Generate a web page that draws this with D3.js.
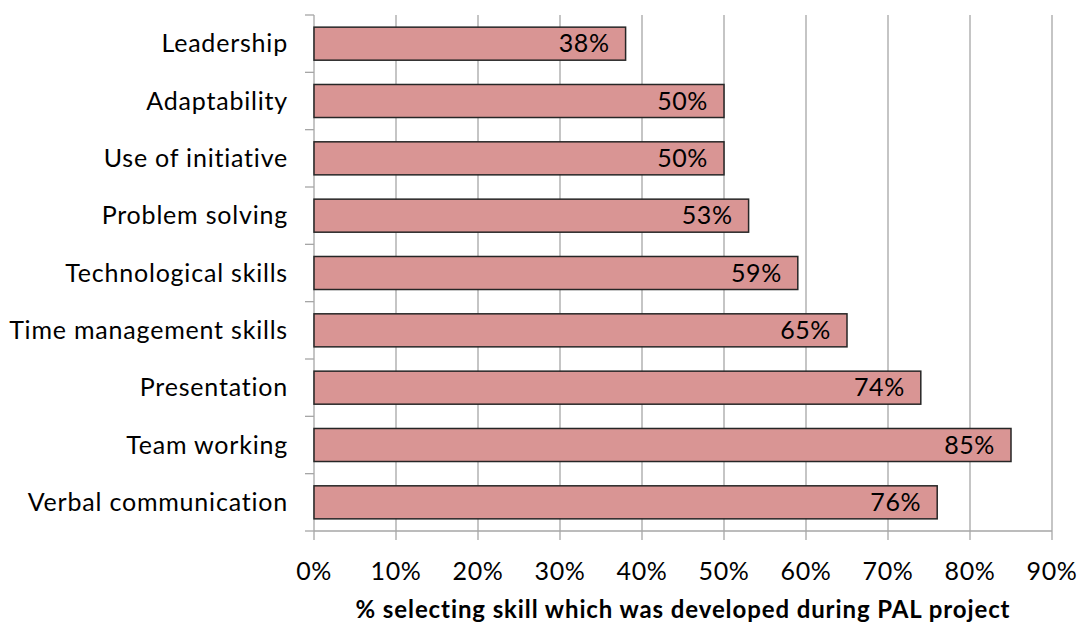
<!DOCTYPE html>
<html>
<head>
<meta charset="utf-8">
<script src="https://cdn.jsdelivr.net/npm/d3@7"></script>
<style>
  body { margin: 0; background: #fff; }
  text { font-family: Lato, "Open Sans", sans-serif; fill: #000; }
</style>
</head>
<body>
<script>
// Datos del gráfico
const habilidades = ["Leadership", "Adaptability", "Use of initiative", "Problem solving",
  "Technological skills", "Time management skills", "Presentation", "Team working", "Verbal communication"];
const valores = [38, 50, 50, 53, 59, 65, 74, 85, 76];
const ticksX = [0, 10, 20, 30, 40, 50, 60, 70, 80, 90];
const tituloX = "% selecting skill which was developed during PAL project";

const ancho = 1079, alto = 624;
const margen = { top: 15, right: 27, bottom: 93, left: 314 };

const svg = d3.select("body").append("svg")
  .attr("width", ancho).attr("height", alto);

const x = d3.scaleLinear().domain([0, 90]).range([margen.left, ancho - margen.right]);
const y = d3.scaleBand().domain(habilidades)
  .range([margen.top, alto - margen.bottom]).paddingInner(0.424).paddingOuter(0.212);

const abajo = alto - margen.bottom;

// Líneas de cuadrícula verticales (se extienden un poco bajo el eje)
svg.append("g").selectAll("line").data(ticksX.slice(1)).join("line")
  .attr("x1", d => x(d)).attr("x2", d => x(d))
  .attr("y1", margen.top).attr("y2", abajo + 9)
  .attr("stroke", "#a6a6a6").attr("stroke-width", 1.3);

// Eje x
svg.append("line")
  .attr("x1", x(0)).attr("x2", x(90)).attr("y1", abajo).attr("y2", abajo)
  .attr("stroke", "#a6a6a6").attr("stroke-width", 1.3);

svg.append("g").selectAll("text").data(ticksX).join("text")
  .attr("x", d => x(d)).attr("y", abajo + 49)
  .attr("text-anchor", "middle").attr("font-size", 25).attr("letter-spacing", 0.6)
  .text(d => d + "%");

// Eje y con marcas en los límites de cada banda
const limites = d3.range(habilidades.length + 1).map(i => margen.top + i * y.step());
svg.append("line")
  .attr("x1", x(0)).attr("x2", x(0)).attr("y1", margen.top).attr("y2", abajo + 9)
  .attr("stroke", "#a6a6a6").attr("stroke-width", 1.3);
svg.append("g").selectAll("line").data(limites).join("line")
  .attr("x1", x(0) - 9).attr("x2", x(0)).attr("y1", d => d).attr("y2", d => d)
  .attr("stroke", "#a6a6a6").attr("stroke-width", 1.3);

svg.append("g").selectAll("text").data(habilidades).join("text")
  .attr("x", x(0) - 26).attr("y", d => y(d) + y.bandwidth() / 2)
  .attr("dy", "0.35em").attr("text-anchor", "end").attr("font-size", 25).attr("letter-spacing", 0.8)
  .text(d => d);

// Barras
svg.append("g").selectAll("rect").data(valores).join("rect")
  .attr("x", x(0)).attr("y", (_, i) => y(habilidades[i]))
  .attr("width", d => x(d) - x(0)).attr("height", y.bandwidth())
  .attr("fill", "#d99594").attr("stroke", "#262626").attr("stroke-width", 1.5);

// Etiquetas de valor dentro de cada barra
svg.append("g").selectAll("text").data(valores).join("text")
  .attr("x", d => x(d) - 16).attr("y", (_, i) => y(habilidades[i]) + y.bandwidth() / 2)
  .attr("dy", "0.35em").attr("text-anchor", "end").attr("font-size", 25).attr("letter-spacing", 0.6)
  .text(d => d + "%");

// Título del eje x
svg.append("text")
  .attr("x", (x(0) + x(90)) / 2).attr("y", 618)
  .attr("text-anchor", "middle").attr("font-size", 24).attr("font-weight", "bold").attr("letter-spacing", 0.9)
  .text(tituloX);
</script>
</body>
</html>
